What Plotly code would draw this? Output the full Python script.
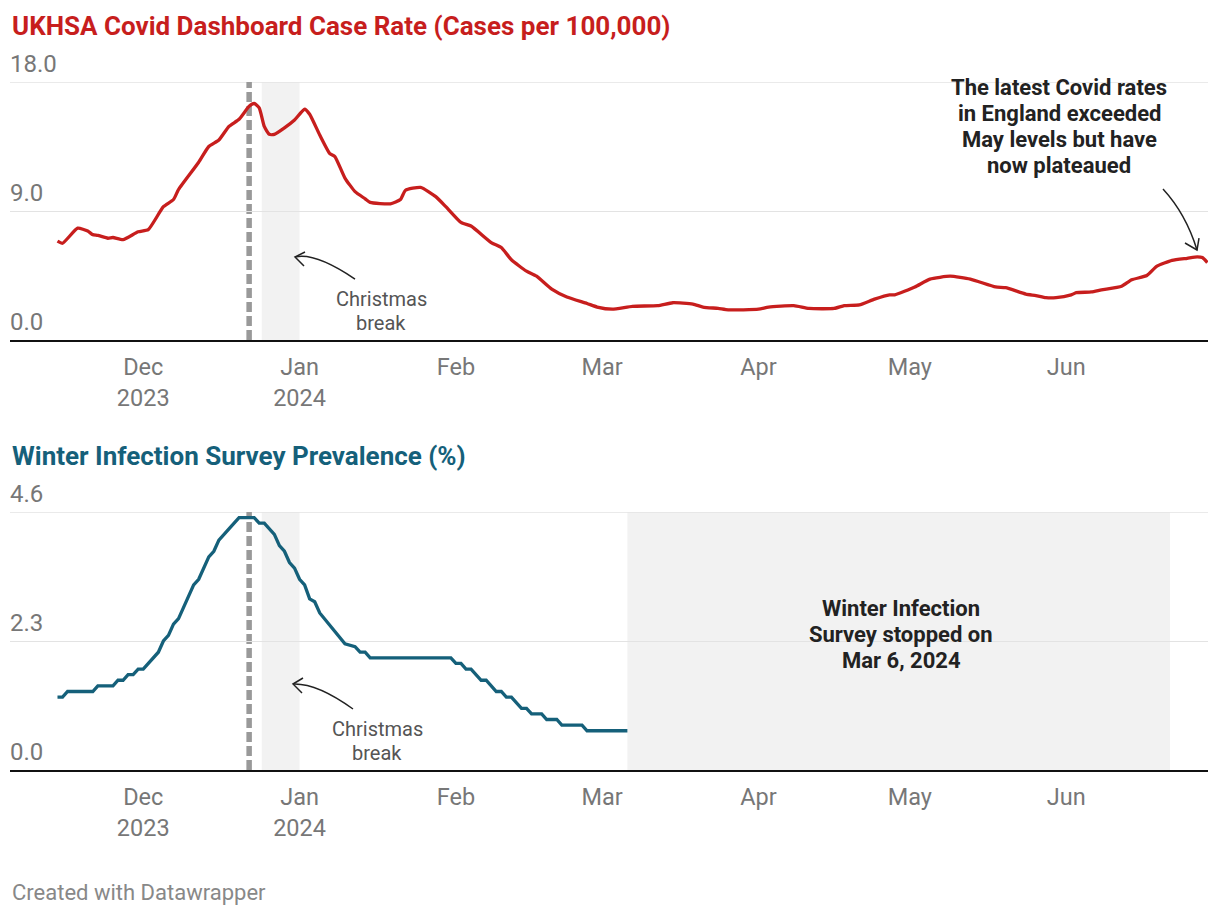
import plotly.graph_objects as go

# ---------------- data ----------------
case_dates = [
    "2023-11-14", "2023-11-15", "2023-11-18", "2023-11-20", "2023-11-21", "2023-11-22",
    "2023-11-24", "2023-11-25", "2023-11-27", "2023-11-30", "2023-12-02", "2023-12-05",
    "2023-12-07", "2023-12-08", "2023-12-12", "2023-12-14", "2023-12-16", "2023-12-18",
    "2023-12-20", "2023-12-22", "2023-12-23", "2023-12-24", "2023-12-25", "2023-12-26",
    "2023-12-27", "2023-12-29", "2023-12-31", "2024-01-02", "2024-01-03", "2024-01-05",
    "2024-01-07", "2024-01-08", "2024-01-10", "2024-01-12", "2024-01-14", "2024-01-15",
    "2024-01-19", "2024-01-21", "2024-01-22", "2024-01-25", "2024-01-28", "2024-01-30",
    "2024-02-02", "2024-02-04", "2024-02-08", "2024-02-10", "2024-02-12", "2024-02-15",
    "2024-02-17", "2024-02-20", "2024-02-23", "2024-02-27", "2024-02-29", "2024-03-03",
    "2024-03-07", "2024-03-12", "2024-03-15", "2024-03-19", "2024-03-21", "2024-03-24",
    "2024-03-26", "2024-04-01", "2024-04-03", "2024-04-08", "2024-04-11", "2024-04-16",
    "2024-04-18", "2024-04-21", "2024-04-24", "2024-04-27", "2024-04-28", "2024-05-02",
    "2024-05-05", "2024-05-09", "2024-05-13", "2024-05-18", "2024-05-20", "2024-05-24",
    "2024-05-26", "2024-05-28", "2024-05-30", "2024-06-02", "2024-06-03", "2024-06-06",
    "2024-06-08", "2024-06-12", "2024-06-14", "2024-06-17", "2024-06-19", "2024-06-22",
    "2024-06-25", "2024-06-27", "2024-06-28", "2024-06-29",
]
case_rate = [
    6.9, 6.75, 7.8, 7.6, 7.35, 7.3,
    7.1, 7.15, 7.0, 7.55, 7.7, 9.3,
    9.8, 10.5, 12.4, 13.5, 13.95, 14.9,
    15.4, 16.3, 16.5, 16.2, 14.9, 14.35,
    14.35, 14.8, 15.35, 16.1, 15.75, 14.3,
    13.0, 12.8, 11.3, 10.35, 9.85, 9.6,
    9.5, 9.8, 10.45, 10.65, 10.0, 9.3,
    8.2, 7.95, 6.8, 6.45, 5.6, 4.8,
    4.45, 3.55, 3.0, 2.55, 2.3, 2.15,
    2.35, 2.4, 2.6, 2.5, 2.3, 2.2,
    2.1, 2.15, 2.3, 2.4, 2.2, 2.2,
    2.4, 2.45, 2.85, 3.15, 3.15, 3.7,
    4.25, 4.45, 4.25, 3.7, 3.65, 3.2,
    3.1, 2.95, 2.95, 3.15, 3.3, 3.35,
    3.5, 3.75, 4.2, 4.5, 5.15, 5.55,
    5.7, 5.8, 5.75, 5.4,
]

prev_dates = [
    "2023-11-14", "2023-11-15", "2023-11-16", "2023-11-21", "2023-11-22", "2023-11-25",
    "2023-11-26", "2023-11-27", "2023-11-28", "2023-11-29", "2023-11-30", "2023-12-01",
    "2023-12-04", "2023-12-05", "2023-12-06", "2023-12-07", "2023-12-08", "2023-12-11",
    "2023-12-12", "2023-12-14", "2023-12-15", "2023-12-16", "2023-12-18", "2023-12-19",
    "2023-12-20", "2023-12-23", "2023-12-24", "2023-12-25", "2023-12-27", "2023-12-28",
    "2023-12-29", "2023-12-30", "2023-12-31", "2024-01-01", "2024-01-02", "2024-01-03",
    "2024-01-04", "2024-01-05", "2024-01-10", "2024-01-12", "2024-01-13", "2024-01-14",
    "2024-01-15", "2024-01-31", "2024-02-01", "2024-02-02", "2024-02-03", "2024-02-04",
    "2024-02-06", "2024-02-07", "2024-02-09", "2024-02-10", "2024-02-11", "2024-02-12",
    "2024-02-14", "2024-02-15", "2024-02-16", "2024-02-18", "2024-02-19", "2024-02-21",
    "2024-02-22", "2024-02-26", "2024-02-27", "2024-03-06",
]
prevalence = [
    1.3, 1.3, 1.4, 1.4, 1.5, 1.5,
    1.6, 1.6, 1.7, 1.7, 1.8, 1.8,
    2.1, 2.3, 2.4, 2.6, 2.7, 3.3,
    3.4, 3.8, 3.9, 4.1, 4.3, 4.4,
    4.5, 4.5, 4.4, 4.4, 4.2, 4.0,
    3.9, 3.7, 3.6, 3.4, 3.3, 3.05,
    3.0, 2.8, 2.25, 2.2, 2.1, 2.1,
    2.0, 2.0, 1.9, 1.9, 1.8, 1.8,
    1.6, 1.6, 1.4, 1.4, 1.3, 1.3,
    1.1, 1.1, 1.0, 1.0, 0.9, 0.9,
    0.8, 0.8, 0.7, 0.7,
]

month_ticks = ["2023-12-01", "2024-01-01", "2024-02-01", "2024-03-01",
               "2024-04-01", "2024-05-01", "2024-06-01"]
month_labels = ["Dec<br>2023", "Jan<br>2024", "Feb", "Mar", "Apr", "May", "Jun"]
case_yticks = [0, 9, 18]
prev_yticks = [0, 2.3, 4.6]

x_range = ["2023-11-04 14:00", "2024-06-29 03:00"]
ref_date = "2023-12-22"
xmas_start, xmas_end = "2023-12-24 12:00", "2024-01-01"
survey_stop, survey_shade_end = "2024-03-06", "2024-06-21 14:00"

RED = "#c71e1d"
TEAL = "#15607a"
GRID = "#e3e3e3"
FONT = "Roboto"
W, H = 1220, 916
L, R = 10, 12


def P(px, py):
    return f"{(px - L) / (W - L - R):.5f},{(H - py) / H:.5f}"


def pdom(top_px, bot_px):
    return [(H - bot_px) / H, (H - top_px) / H]


fig = go.Figure()
fig.add_trace(go.Scatter(x=case_dates, y=case_rate, mode="lines",
                         line=dict(color=RED, width=3.3, shape="spline", smoothing=0.5),
                         xaxis="x", yaxis="y", hoverinfo="x+y", showlegend=False))
fig.add_trace(go.Scatter(x=prev_dates, y=prevalence, mode="lines",
                         line=dict(color=TEAL, width=3.3), xaxis="x2", yaxis="y2",
                         hoverinfo="x+y", showlegend=False))

xcommon = dict(type="date", range=x_range, showgrid=False, showline=True,
               linecolor="#111", linewidth=2, ticks="", tickvals=month_ticks,
               ticktext=month_labels, tickfont=dict(family=FONT, size=23.5, color="#777"),
               ticklabelstandoff=5, zeroline=False, fixedrange=True)
ycommon = dict(showgrid=True, gridcolor=GRID, gridwidth=1, zeroline=False,
               showline=False, ticks="", showticklabels=False, fixedrange=True)

fig.update_layout(
    width=W, height=H,
    margin=dict(l=L, r=R, t=0, b=0),
    paper_bgcolor="white", plot_bgcolor="white",
    font=dict(family=FONT),
    xaxis=dict(xcommon, domain=[0, 1], anchor="y"),
    yaxis=dict(ycommon, domain=pdom(82, 340), range=[0, max(case_yticks)],
               tickvals=case_yticks, anchor="x"),
    xaxis2=dict(xcommon, domain=[0, 1], anchor="y2"),
    yaxis2=dict(ycommon, domain=pdom(512, 770), range=[0, max(prev_yticks)],
                tickvals=prev_yticks, anchor="x2"),
)

shapes = [
    dict(type="rect", xref="x", yref="y domain", x0=xmas_start, x1=xmas_end, y0=0, y1=1,
         fillcolor="#f2f2f2", line=dict(width=0), layer="below"),
    dict(type="rect", xref="x2", yref="y2 domain", x0=xmas_start, x1=xmas_end, y0=0, y1=1,
         fillcolor="#f2f2f2", line=dict(width=0), layer="below"),
    dict(type="rect", xref="x2", yref="y2 domain", x0=survey_stop, x1=survey_shade_end,
         y0=0, y1=1, fillcolor="#f2f2f2", line=dict(width=0), layer="below"),
    # top gridlines (at the edge of each plot area, which plotly does not draw itself)
    dict(type="line", xref="x domain", yref="y", x0=0, x1=1, y0=max(case_yticks),
         y1=max(case_yticks), line=dict(color=GRID, width=1.5), layer="below"),
    dict(type="line", xref="x2 domain", yref="y2", x0=0, x1=1, y0=max(prev_yticks),
         y1=max(prev_yticks), line=dict(color=GRID, width=1.5), layer="below"),
    dict(type="line", xref="x", yref="y domain", x0=ref_date, x1=ref_date, y0=0, y1=1,
         line=dict(color="#999", width=5.5, dash="10px,4px"), layer="below"),
    dict(type="line", xref="x2", yref="y2 domain", x0=ref_date, x1=ref_date, y0=0, y1=1,
         line=dict(color="#999", width=5.5, dash="10px,4px"), layer="below"),
]
# curved annotation arrows (decoration, paper coords)
arrow = dict(type="path", xref="paper", yref="paper", line=dict(color="#222", width=1.5),
             layer="above")
shapes += [
    dict(arrow, path=f"M{P(355, 279)} Q{P(315, 252)} {P(295, 257)}"),
    dict(arrow, path=f"M{P(305, 252)} L{P(295, 257)} L{P(304, 266)}"),
    dict(arrow, path=f"M{P(353, 709)} Q{P(317, 683)} {P(293, 684)}"),
    dict(arrow, path=f"M{P(303, 678)} L{P(293, 684)} L{P(302, 693)}"),
    dict(arrow, path=f"M{P(1163, 189)} Q{P(1186, 214)} {P(1197, 250)}"),
    dict(arrow, path=f"M{P(1185, 243)} L{P(1197, 250)} L{P(1199, 238)}"),
]
fig.update_layout(shapes=shapes)

ann = [
    dict(text="<b>UKHSA Covid Dashboard Case Rate (Cases per 100,000)</b>",
         x=0, y=(H - 26) / H, xanchor="left", yanchor="middle",
         font=dict(family=FONT, size=26, color=RED)),
    dict(text="<b>Winter Infection Survey Prevalence (%)</b>",
         x=0, y=(H - 456) / H, xanchor="left", yanchor="middle",
         font=dict(family=FONT, size=26, color=TEAL)),
    dict(text="Created with Datawrapper", x=0, y=(H - 892) / H, xanchor="left",
         yanchor="middle", font=dict(family=FONT, size=22, color="#888")),
]


def text_block(lines, cx, first_y, spacing, size, color, bold=False):
    for i, line in enumerate(lines):
        t = f"<b>{line}</b>" if bold else line
        ann.append(dict(text=t, x=(cx - L) / (W - L - R), y=(H - (first_y + i * spacing)) / H,
                        xanchor="center", yanchor="middle",
                        font=dict(family=FONT, size=size, color=color)))


text_block(["Christmas", "break"], 381, 299, 24, 20, "#555")
text_block(["Christmas", "break"], 377, 729, 24, 20, "#555")
text_block(["The latest Covid rates", "in England exceeded", "May levels but have",
            "now plateaued"], 1059, 87, 26.3, 22, "#222", bold=True)
text_block(["Winter Infection", "Survey stopped on", "Mar 6, 2024"], 901, 608, 26,
           22, "#222", bold=True)

for a in ann:
    a.update(xref="paper", yref="paper", showarrow=False)

# y-axis value labels placed above their gridlines (Datawrapper style)
for yref, ticks in (("y", case_yticks), ("y2", prev_yticks)):
    for v in ticks:
        ann.append(dict(text=f"{v:.1f}", xref="paper", yref=yref, x=0, y=v,
                        xanchor="left", yanchor="middle", xshift=-2, yshift=18,
                        showarrow=False, font=dict(family=FONT, size=24, color="#777")))
fig.update_layout(annotations=ann)

fig.write_html("out.html")
